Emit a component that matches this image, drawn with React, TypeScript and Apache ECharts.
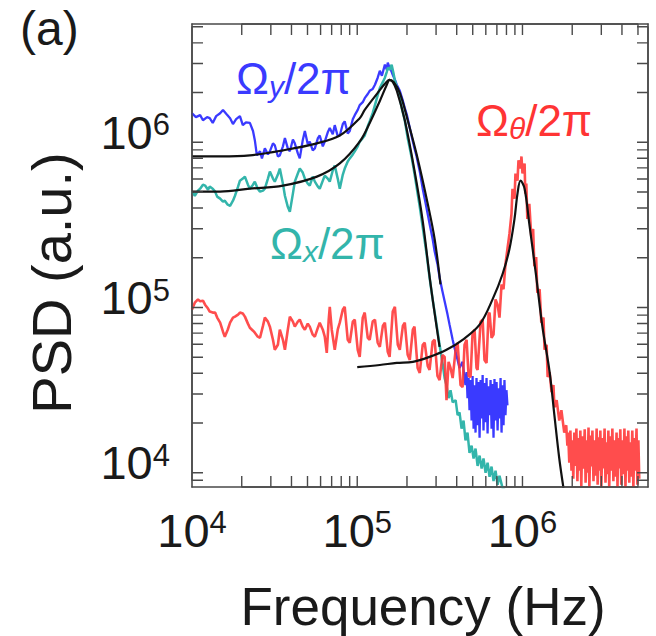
import React, { useEffect, useRef } from "react";
import * as echarts from "echarts";

const FONT = "'Liberation Sans', Arial, Helvetica, sans-serif";

// Axis extents (Hz, a.u.)
const xRange = [1e4, 5.75e6];
const yRange = [8.2e3, 5.2e6];

// Tick positions (log axes, decade + 2..9 sub-ticks)
const xTickValues = [2e4, 3e4, 4e4, 5e4, 6e4, 7e4, 8e4, 9e4, 1e5, 2e5, 3e5, 4e5, 5e5, 6e5, 7e5, 8e5, 9e5, 1e6, 2e6, 3e6, 4e6, 5e6];
const yTickValues = [9e3, 1e4, 2e4, 3e4, 4e4, 5e4, 6e4, 7e4, 8e4, 9e4, 1e5, 2e5, 3e5, 4e5, 5e5, 6e5, 7e5, 8e5, 9e5, 1e6, 2e6, 3e6, 4e6, 5e6];
const xLabelValues = [1e4, 1e5, 1e6];
const yLabelValues = [1e4, 1e5, 1e6];

// Measured PSD, y mode (blue)
const omegaY: [number, number][] = [
  [1.00e4, 1.50e6], [1.056e4, 1.42e6], [1.12e4, 1.46e6], [1.165e4, 1.36e6], [1.234e4, 1.42e6], [1.28e4, 1.40e6],
  [1.335e4, 1.31e6], [1.40e4, 1.44e6], [1.48e4, 1.50e6], [1.54e4, 1.57e6], [1.62e4, 1.48e6], [1.70e4, 1.40e6],
  [1.77e4, 1.29e6], [1.85e4, 1.38e6], [1.95e4, 1.44e6], [2.03e4, 1.27e6], [2.12e4, 1.32e6], [2.24e4, 1.31e6],
  [2.34e4, 1.17e6], [2.40e4, 1.03e6], [2.47e4, 8.33e5], [2.58e4, 8.82e5], [2.65e4, 7.99e5], [2.76e4, 9.19e5],
  [2.88e4, 8.45e5], [2.96e4, 8.82e5], [3.09e4, 9.86e5], [3.17e4, 9.59e5], [3.31e4, 8.21e5], [3.40e4, 8.33e5],
  [3.55e4, 9.45e5], [3.65e4, 1.06e6], [3.80e4, 9.19e5], [3.91e4, 8.82e5], [4.08e4, 1.04e6], [4.19e4, 9.86e5],
  [4.37e4, 8.57e5], [4.49e4, 7.99e5], [4.68e4, 1.03e6], [4.82e4, 1.17e6], [5.02e4, 9.72e5], [5.16e4, 1.01e6],
  [5.38e4, 8.94e5], [5.54e4, 9.19e5], [5.78e4, 1.06e6], [5.93e4, 1.10e6], [6.19e4, 9.45e5], [6.36e4, 1.01e6],
  [6.63e4, 1.15e6], [6.82e4, 1.22e6], [7.11e4, 1.12e6], [7.31e4, 1.27e6], [7.62e4, 1.09e6], [7.84e4, 1.10e6],
  [8.18e4, 1.29e6], [8.40e4, 1.34e6], [8.76e4, 1.13e6], [9.01e4, 1.17e6], [9.40e4, 1.38e6], [9.66e4, 1.46e6],
  [1.007e5, 1.57e6], [1.035e5, 1.68e6], [1.08e5, 1.75e6], [1.11e5, 1.85e6], [1.158e5, 1.96e6], [1.19e5, 2.05e6],
  [1.24e5, 2.10e6], [1.28e5, 2.23e6], [1.33e5, 2.46e6], [1.37e5, 2.71e6], [1.41e5, 2.53e6], [1.47e5, 2.95e6],
  [1.51e5, 2.75e6], [1.53e5, 3.03e6], [1.57e5, 2.83e6], [1.615e5, 2.67e6], [1.64e5, 2.56e6], [1.69e5, 2.39e6],
  [1.735e5, 2.23e6], [1.81e5, 2.05e6], [1.89e5, 1.78e6], [1.94e5, 1.61e6], [2.00e5, 1.46e6], [2.08e5, 1.22e6],
  [2.17e5, 1.01e6], [2.22e5, 9.19e5], [2.28e5, 8.33e5], [2.39e5, 6.65e5], [2.49e5, 5.24e5], [2.56e5, 4.56e5],
  [2.74e5, 3.21e5], [2.86e5, 2.60e5], [2.94e5, 2.19e5], [3.06e5, 1.83e5], [3.15e5, 1.52e5], [3.28e5, 1.25e5],
  [3.38e5, 1.09e5], [3.52e5, 9.06e4], [3.62e5, 7.88e4], [3.78e5, 6.38e4], [3.88e5, 5.70e4], [4.05e5, 4.82e4],
  [4.16e5, 4.31e4], [4.34e5, 4.69e4], [4.52e5, 3.39e4], [4.59e5, 4.07e4], [4.65e5, 2.83e4], [4.72e5, 3.74e4],
  [4.78e5, 2.39e4], [4.85e5, 3.64e4], [4.92e5, 2.07e4], [4.99e5, 3.85e4], [5.06e5, 1.85e4], [5.13e5, 3.39e4],
  [5.20e5, 1.75e4], [5.27e5, 3.74e4], [5.35e5, 1.94e4], [5.42e5, 3.54e4], [5.50e5, 1.63e4], [5.58e5, 3.64e4],
  [5.66e5, 2.13e4], [5.74e5, 3.90e4], [5.81e5, 1.80e4], [5.89e5, 3.49e4], [5.98e5, 2.02e4], [6.06e5, 3.74e4],
  [6.15e5, 1.73e4], [6.23e5, 3.34e4], [6.32e5, 2.23e4], [6.41e5, 3.64e4], [6.50e5, 1.85e4], [6.59e5, 3.44e4],
  [6.68e5, 1.63e4], [6.77e5, 3.69e4], [6.87e5, 2.07e4], [6.97e5, 3.54e4], [7.07e5, 1.80e4], [7.16e5, 3.25e4],
  [7.26e5, 2.13e4], [7.37e5, 3.74e4], [7.47e5, 1.75e4], [7.57e5, 3.39e4], [7.68e5, 1.94e4], [7.78e5, 3.64e4],
  [7.89e5, 2.23e4], [8.00e5, 3.16e4], [8.11e5, 2.56e4],
];

// Measured PSD, x mode (teal)
const omegaX: [number, number][] = [
  [1.00e4, 5.03e5], [1.04e4, 4.75e5], [1.087e4, 5.10e5], [1.12e4, 5.24e5], [1.165e4, 5.54e5], [1.20e4, 5.47e5],
  [1.25e4, 5.17e5], [1.28e4, 5.39e5], [1.335e4, 5.24e5], [1.38e4, 5.03e5], [1.42e4, 4.69e5], [1.48e4, 4.56e5],
  [1.54e4, 4.37e5], [1.58e4, 4.43e5], [1.645e4, 4.19e5], [1.70e4, 4.13e5], [1.77e4, 4.43e5], [1.82e4, 4.75e5],
  [1.90e4, 5.39e5], [1.95e4, 5.86e5], [2.03e4, 6.03e5], [2.09e4, 6.20e5], [2.18e4, 5.54e5], [2.24e4, 5.24e5],
  [2.34e4, 5.54e5], [2.40e4, 5.78e5], [2.50e4, 5.24e5], [2.58e4, 5.03e5], [2.69e4, 5.10e5], [2.76e4, 5.24e5],
  [2.88e4, 6.03e5], [2.96e4, 6.65e5], [3.09e4, 6.03e5], [3.17e4, 5.78e5], [3.31e4, 6.38e5], [3.40e4, 6.94e5],
  [3.55e4, 5.62e5], [3.65e4, 4.75e5], [3.80e4, 4.07e5], [3.91e4, 3.80e5], [4.08e4, 4.89e5], [4.19e4, 5.78e5],
  [4.37e4, 6.47e5], [4.49e4, 6.94e5], [4.68e4, 6.56e5], [4.82e4, 6.03e5], [5.02e4, 5.62e5], [5.16e4, 5.47e5],
  [5.38e4, 6.20e5], [5.54e4, 5.78e5], [5.78e4, 5.39e5], [5.93e4, 5.24e5], [6.19e4, 5.86e5], [6.36e4, 6.29e5],
  [6.63e4, 6.03e5], [6.82e4, 5.78e5], [7.11e4, 6.75e5], [7.31e4, 7.24e5], [7.62e4, 6.03e5], [7.84e4, 5.24e5],
  [8.18e4, 6.38e5], [8.40e4, 6.94e5], [8.76e4, 7.66e5], [9.01e4, 7.99e5], [9.40e4, 8.45e5], [9.66e4, 8.82e5],
  [1.007e5, 9.45e5], [1.035e5, 1.01e6], [1.08e5, 1.06e6], [1.11e5, 1.10e6], [1.158e5, 1.25e6], [1.19e5, 1.34e6],
  [1.24e5, 1.50e6], [1.28e5, 1.68e6], [1.33e5, 1.93e6], [1.37e5, 2.13e6], [1.43e5, 2.32e6], [1.47e5, 2.46e6],
  [1.51e5, 2.67e6], [1.53e5, 2.83e6], [1.57e5, 2.75e6], [1.615e5, 2.95e6], [1.66e5, 2.60e6], [1.69e5, 2.36e6],
  [1.76e5, 2.05e6], [1.81e5, 1.85e6], [1.86e5, 1.61e6], [1.94e5, 1.36e6], [2.02e5, 1.06e6], [2.08e5, 9.19e5],
  [2.14e5, 7.99e5], [2.22e5, 6.47e5], [2.32e5, 4.89e5], [2.39e5, 4.07e5], [2.49e5, 3.07e5], [2.63e5, 2.10e5],
  [2.74e5, 1.52e5], [2.86e5, 1.12e5], [3.02e5, 7.88e4], [3.15e5, 5.95e4], [3.28e5, 4.62e4], [3.38e5, 3.74e4],
  [3.47e5, 3.39e4], [3.57e5, 2.83e4], [3.67e5, 3.16e4], [3.78e5, 2.67e4], [3.94e5, 2.75e4], [4.05e5, 2.23e4],
  [4.16e5, 2.32e4], [4.28e5, 1.85e4], [4.40e5, 2.07e4], [4.52e5, 1.57e4], [4.65e5, 1.75e4], [4.78e5, 1.32e4],
  [4.92e5, 1.46e4], [5.06e5, 1.22e4], [5.20e5, 1.40e4], [5.35e5, 1.10e4], [5.50e5, 1.27e4], [5.66e5, 1.06e4],
  [5.81e5, 1.22e4], [5.98e5, 1.00e4], [6.15e5, 1.15e4], [6.32e5, 9.46e3], [6.50e5, 1.09e4], [6.68e5, 8.9e3],
  [6.87e5, 1.03e4], [7.07e5, 8.45e3], [7.26e5, 9.6e3], [7.57e5, 8.1e3], [7.89e5, 7.8e3],
];

// Measured PSD, theta mode (red)
const omegaTheta: [number, number][] = [
  [1.00e4, 9.72e4], [1.04e4, 1.07e5], [1.087e4, 1.12e5], [1.12e4, 1.09e5], [1.165e4, 1.10e5], [1.20e4, 1.04e5],
  [1.25e4, 9.86e4], [1.28e4, 9.45e4], [1.335e4, 9.32e4], [1.38e4, 9.32e4], [1.42e4, 8.69e4], [1.48e4, 8.10e4],
  [1.54e4, 7.14e4], [1.58e4, 6.66e4], [1.645e4, 7.34e4], [1.70e4, 8.10e4], [1.77e4, 8.69e4], [1.82e4, 8.81e4],
  [1.90e4, 9.06e4], [1.95e4, 9.32e4], [2.03e4, 9.19e4], [2.09e4, 8.81e4], [2.18e4, 7.99e4], [2.24e4, 7.55e4],
  [2.34e4, 7.24e4], [2.40e4, 7.04e4], [2.50e4, 6.66e4], [2.58e4, 6.56e4], [2.69e4, 7.77e4], [2.76e4, 8.69e4],
  [2.88e4, 8.22e4], [2.96e4, 7.66e4], [3.09e4, 6.38e4], [3.17e4, 5.55e4], [3.31e4, 5.95e4], [3.40e4, 7.34e4],
  [3.55e4, 6.38e4], [3.65e4, 5.55e4], [3.80e4, 7.34e4], [3.91e4, 8.81e4], [4.08e4, 8.22e4], [4.19e4, 7.66e4],
  [4.37e4, 8.22e4], [4.49e4, 8.45e4], [4.68e4, 7.66e4], [4.82e4, 7.34e4], [5.02e4, 7.99e4], [5.16e4, 7.66e4],
  [5.38e4, 6.85e4], [5.54e4, 6.66e4], [5.78e4, 7.55e4], [5.93e4, 8.10e4], [6.19e4, 7.34e4], [6.36e4, 6.66e4],
  [6.54e4, 5.32e4], [6.72e4, 8.45e4], [6.82e4, 1.01e5], [7.01e4, 7.34e4], [7.31e4, 5.55e4], [7.62e4, 7.34e4],
  [7.84e4, 8.10e4], [8.18e4, 9.72e4], [8.40e4, 1.01e5], [8.76e4, 6.38e4], [9.01e4, 6.12e4], [9.40e4, 8.22e4],
  [9.66e4, 8.45e4], [1.007e5, 5.55e4], [1.035e5, 5.03e4], [1.08e5, 8.69e4], [1.11e5, 9.32e4], [1.158e5, 6.56e4],
  [1.19e5, 6.38e4], [1.24e5, 8.22e4], [1.28e5, 8.45e4], [1.33e5, 6.12e4], [1.37e5, 5.78e4], [1.43e5, 7.77e4],
  [1.47e5, 8.10e4], [1.53e5, 5.39e4], [1.57e5, 5.03e4], [1.64e5, 9.45e4], [1.69e5, 1.01e5], [1.76e5, 5.95e4],
  [1.81e5, 5.55e4], [1.89e5, 7.77e4], [1.94e5, 8.10e4], [2.02e5, 5.17e4], [2.08e5, 4.82e4], [2.17e5, 7.34e4],
  [2.22e5, 7.66e4], [2.32e5, 4.31e4], [2.39e5, 4.02e4], [2.49e5, 5.95e4], [2.56e5, 6.12e4], [2.67e5, 4.43e4],
  [2.74e5, 4.19e4], [2.86e5, 6.21e4], [2.94e5, 6.38e4], [3.06e5, 3.85e4], [3.15e5, 3.64e4], [3.28e5, 5.17e4],
  [3.38e5, 5.03e4], [3.47e5, 2.75e4], [3.57e5, 4.69e4], [3.67e5, 4.31e4], [3.78e5, 3.74e4], [3.94e5, 5.55e4],
  [4.05e5, 6.12e4], [4.22e5, 3.39e4], [4.34e5, 3.30e4], [4.46e5, 5.95e4], [4.59e5, 6.38e4], [4.72e5, 3.85e4],
  [4.85e5, 3.80e4], [4.99e5, 7.04e4], [5.13e5, 7.34e4], [5.27e5, 4.31e4], [5.35e5, 4.19e4], [5.58e5, 8.22e4],
  [5.74e5, 8.45e4], [5.89e5, 4.82e4], [6.06e5, 4.62e4], [6.23e5, 9.06e4], [6.32e5, 9.32e4], [6.50e5, 6.56e4],
  [6.68e5, 6.85e4], [6.87e5, 1.12e5], [7.07e5, 1.04e5], [7.26e5, 8.69e4], [7.47e5, 1.38e5], [7.68e5, 1.29e5],
  [7.89e5, 1.83e5], [8.11e5, 2.26e5], [8.34e5, 2.79e5], [8.58e5, 3.69e5], [8.70e5, 5.24e5], [8.95e5, 4.56e5],
  [9.07e5, 6.47e5], [9.33e5, 5.86e5], [9.46e5, 7.77e5], [9.73e5, 6.94e5], [9.86e5, 8.21e5], [1.00e6, 6.47e5],
  [1.03e6, 7.45e5], [1.04e6, 4.89e5], [1.055e6, 5.62e5], [1.07e6, 3.44e5], [1.10e6, 4.25e5], [1.13e6, 2.71e5],
  [1.16e6, 2.99e5], [1.18e6, 1.78e5], [1.21e6, 2.02e5], [1.23e6, 1.23e5], [1.27e6, 1.29e5], [1.30e6, 8.10e4],
  [1.34e6, 8.69e4], [1.36e6, 5.55e4], [1.40e6, 5.95e4], [1.42e6, 3.80e4], [1.46e6, 4.07e4], [1.50e6, 3.08e4],
  [1.54e6, 3.39e4], [1.56e6, 2.49e4], [1.61e6, 2.75e4], [1.67e6, 2.07e4], [1.72e6, 2.39e4], [1.79e6, 1.75e4],
  [1.84e6, 1.94e4], [1.87e6, 1.46e4], [1.89e6, 1.75e4], [1.92e6, 1.15e4], [1.95e6, 1.80e4], [1.98e6, 1.03e4],
  [2.01e6, 1.57e4], [2.03e6, 9.2e3], [2.06e6, 1.75e4], [2.09e6, 1.10e4], [2.12e6, 1.85e4], [2.15e6, 8.9e3],
  [2.18e6, 1.62e4], [2.21e6, 1.03e4], [2.24e6, 1.80e4], [2.27e6, 8.3e3], [2.30e6, 1.66e4], [2.34e6, 1.06e4],
  [2.38e6, 1.83e4], [2.41e6, 8.7e3], [2.45e6, 1.57e4], [2.48e6, 1.00e4], [2.51e6, 1.88e4], [2.54e6, 8.2e3],
  [2.58e6, 1.68e4], [2.61e6, 1.09e4], [2.65e6, 1.80e4], [2.69e6, 8.9e3], [2.73e6, 1.57e4], [2.77e6, 9.6e3],
  [2.81e6, 1.85e4], [2.85e6, 8.45e3], [2.88e6, 1.64e4], [2.92e6, 1.03e4], [2.96e6, 1.80e4], [3.00e6, 8.2e3],
  [3.05e6, 1.62e4], [3.09e6, 1.06e4], [3.14e6, 1.85e4], [3.18e6, 8.7e3], [3.23e6, 1.53e4], [3.27e6, 9.8e3],
  [3.31e6, 1.80e4], [3.35e6, 8.2e3], [3.40e6, 1.66e4], [3.45e6, 1.03e4], [3.50e6, 1.85e4], [3.55e6, 8.9e3],
  [3.60e6, 1.57e4], [3.65e6, 9.46e3], [3.71e6, 1.75e4], [3.76e6, 8.2e3], [3.80e6, 1.62e4], [3.85e6, 1.06e4],
  [3.91e6, 1.83e4], [3.96e6, 8.45e3], [4.02e6, 1.57e4], [4.08e6, 9.8e3], [4.14e6, 1.85e4], [4.20e6, 8.2e3],
  [4.26e6, 1.66e4], [4.32e6, 1.03e4], [4.37e6, 1.80e4], [4.43e6, 8.7e3], [4.49e6, 1.53e4], [4.55e6, 9.46e3],
  [4.62e6, 1.80e4], [4.69e6, 8.2e3], [4.76e6, 1.62e4], [4.82e6, 1.03e4], [4.90e6, 1.85e4], [4.96e6, 8.45e3],
  [5.03e6, 1.57e4], [5.09e6, 9.2e3],
];

// Lorentzian fits (black)
const fitY: [number, number][] = [
  [1.00e4, 8.21e5], [1.48e4, 8.21e5], [2.24e4, 8.33e5], [3.55e4, 8.94e5], [5.70e4, 9.86e5], [7.84e4, 1.10e6],
  [1.035e5, 1.40e6], [1.11e5, 1.57e6], [1.33e5, 1.99e6], [1.47e5, 2.26e6], [1.57e5, 2.39e6], [1.66e5, 2.32e6],
  [1.81e5, 1.99e6], [2.02e5, 1.36e6], [2.32e5, 7.99e5], [2.67e5, 4.25e5], [2.94e5, 2.60e5], [3.19e5, 1.38e5],
];
const fitX: [number, number][] = [
  [1.00e4, 5.03e5], [1.48e4, 5.03e5], [2.24e4, 5.24e5], [3.55e4, 5.47e5], [5.70e4, 6.20e5], [7.84e4, 7.45e5],
  [1.035e5, 1.01e6], [1.19e5, 1.31e6], [1.37e5, 1.78e6], [1.51e5, 2.23e6], [1.57e5, 2.39e6], [1.64e5, 2.32e6],
  [1.735e5, 2.05e6], [1.94e5, 1.36e6], [2.22e5, 6.75e5], [2.49e5, 3.34e5], [2.78e5, 1.38e5], [3.15e5, 5.78e4],
];
const fitTheta: [number, number][] = [
  [1.00e5, 4.36e4], [1.37e5, 4.49e4], [1.735e5, 4.62e4], [2.17e5, 4.69e4], [2.74e5, 5.03e4], [3.47e5, 5.55e4],
  [4.34e5, 6.38e4], [5.50e5, 7.88e4], [6.59e5, 1.12e5], [7.57e5, 1.59e5], [8.34e5, 2.26e5], [8.95e5, 3.44e5],
  [9.33e5, 4.89e5], [9.73e5, 5.86e5], [1.03e6, 5.24e5], [1.10e6, 3.21e5], [1.21e6, 1.55e5], [1.32e6, 7.66e4],
  [1.46e6, 4.07e4], [1.56e6, 2.23e4], [1.67e6, 1.22e4], [1.77e6, 8.1e3],
];

const BLUE = "#3a3aff";
const TEAL = "#33b5ab";
const RED = "#ff3434";
const INK = "#1a1a1a";
const FRAME = "#4a4a4a";

const powLabel = (v: number) => `{b|10}{s|${Math.round(Math.log10(v))}}`;

const labelRich = {
  b: { fontSize: 47, fontFamily: FONT, color: INK, lineHeight: 46 },
  s: { fontSize: 31, fontFamily: FONT, color: INK, lineHeight: 22, verticalAlign: "top" },
};

function makeAxis(range: number[], labels: number[], position: string, showLabels: boolean, margin: number, padding: number[]) {
  return {
    type: "log",
    logBase: 10,
    position,
    min: range[0],
    max: range[1],
    gridIndex: 0,
    axisLine: { show: true, onZero: false, lineStyle: { color: FRAME, width: 1.6 } },
    axisTick: { show: false },
    minorTick: { show: false },
    splitLine: { show: false },
    axisLabel: {
      show: showLabels,
      customValues: labels,
      formatter: powLabel,
      rich: labelRich,
      margin,
      padding,
      color: INK,
    },
  };
}

// grid box (px) and inward tick length (px)
const GRID = { left: 192, top: 24, right: 8, bottom: 149 };
const PLOT_W = 656 - GRID.left - GRID.right;
const PLOT_H = 636 - GRID.top - GRID.bottom;
const TICK_PX = 11;

export default function App() {
  const ref = useRef<HTMLDivElement>(null);
  useEffect(() => {
    document.body.style.margin = "0";
    if (!ref.current) return;
    const chart = echarts.init(ref.current, undefined, { renderer: "svg" });
    const lineSeries = (data: [number, number][], color: string, width: number, z: number, smooth: number | boolean, opacity = 1) => ({
      type: "line",
      xAxisIndex: 0,
      yAxisIndex: 0,
      data,
      symbol: "none",
      showSymbol: false,
      smooth,
      silent: true,
      z,
      lineStyle: { color, width, opacity },
    });
    // tick length expressed as a multiplicative step on each log axis
    const fx = Math.pow(xRange[1] / xRange[0], TICK_PX / PLOT_W);
    const fy = Math.pow(yRange[1] / yRange[0], TICK_PX / PLOT_H);
    const comb = (pts: [number, number][]) => ({
      type: "line",
      xAxisIndex: 0,
      yAxisIndex: 0,
      data: pts,
      symbol: "none",
      showSymbol: false,
      silent: true,
      clip: false,
      z: 8,
      lineStyle: { color: FRAME, width: 1.4 },
    });
    const bottomTicks: [number, number][] = [];
    const topTicks: [number, number][] = [];
    xTickValues.forEach((v) => {
      bottomTicks.push([v, yRange[0]], [v, yRange[0] * fy], [v, yRange[0]]);
      topTicks.push([v, yRange[1]], [v, yRange[1] / fy], [v, yRange[1]]);
    });
    const leftTicks: [number, number][] = [];
    const rightTicks: [number, number][] = [];
    yTickValues.forEach((v) => {
      leftTicks.push([xRange[0], v], [xRange[0] * fx, v], [xRange[0], v]);
      rightTicks.push([xRange[1], v], [xRange[1] / fx, v], [xRange[1], v]);
    });
    const subText = (main: string, sub: string, tail: string, color: string) => ({
      text: `{o|${main}}{s|${sub}}{o|${tail}}`,
      rich: {
        o: { fontSize: 44, fontFamily: FONT, fill: color, lineHeight: 46 },
        s: { fontSize: 30, fontFamily: FONT, fontStyle: "italic", fill: color, lineHeight: 20, verticalAlign: "bottom" },
      },
      fill: color,
      align: "left",
      verticalAlign: "top",
    });
    chart.setOption({
      animation: false,
      backgroundColor: "#ffffff",
      grid: { ...GRID, containLabel: false, outerBoundsMode: "none" },
      xAxis: [
        makeAxis(xRange, xLabelValues, "bottom", true, 20, [0, 0, 0, 0]),
        makeAxis(xRange, xLabelValues, "top", false, 8, [0, 0, 0, 0]),
      ],
      yAxis: [
        makeAxis(yRange, yLabelValues, "left", true, 22, [0, 0, 20, 0]),
        makeAxis(yRange, yLabelValues, "right", false, 8, [0, 0, 0, 0]),
      ],
      series: [
        lineSeries(omegaY, BLUE, 2.3, 2, false),
        lineSeries(omegaX, TEAL, 2.5, 3, false),
        lineSeries(omegaTheta, RED, 2.6, 4, false, 0.88),
        lineSeries(fitY, "#111", 2.2, 6, 0.35),
        lineSeries(fitX, "#111", 2.2, 6, 0.35),
        lineSeries(fitTheta, "#111", 2.2, 6, 0.35),
        comb(bottomTicks),
        comb(topTicks),
        comb(leftTicks),
        comb(rightTicks),
      ],
      graphic: [
        { type: "text", x: 20, y: 4, style: { text: "(a)", fontSize: 48, fontFamily: FONT, fill: INK, align: "left", verticalAlign: "top" } },
        { type: "text", x: 236, y: 55, style: subText("Ω", "y", "/2π", BLUE) },
        { type: "text", x: 270, y: 220, style: subText("Ω", "x", "/2π", TEAL) },
        { type: "text", x: 476, y: 97, style: subText("Ω", "θ", "/2π", RED) },
        {
          type: "text", x: 51, y: 283, rotation: Math.PI / 2,
          style: { text: "PSD (a.u.)", fontSize: 56, fontFamily: FONT, fill: INK, align: "center", verticalAlign: "middle" },
        },
        {
          type: "text", x: 423, y: 606,
          style: { text: "Frequency (Hz)", fontSize: 53, fontFamily: FONT, fill: INK, align: "center", verticalAlign: "middle" },
        },
      ],
    });
    return () => chart.dispose();
  }, []);
  return <div ref={ref} style={{ width: 656, height: 636 }} />;
}
